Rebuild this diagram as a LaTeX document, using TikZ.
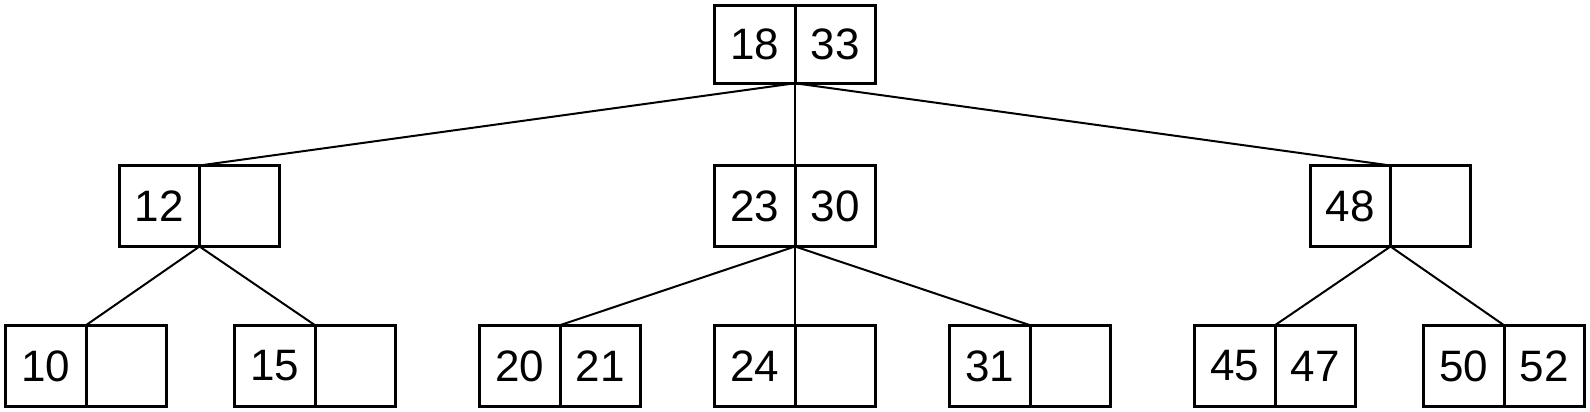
\documentclass[tikz,border=0pt]{standalone}
\usepackage{fontspec}
\setmainfont{Liberation Sans}
\newcommand\keybox[6]{%
  \node[cell,minimum height=#6,anchor=east] (#1l) at (#2,#3) {#4};
  \node[cell,minimum height=#6,anchor=west] (#1r) at (#2,#3) {#5};}
\begin{document}
\begin{tikzpicture}[x=0.5pt,y=-0.5pt,
  cell/.style={draw,line width=1.5pt,minimum width=40.2pt,inner sep=0pt,outer sep=0pt,
    font=\fontsize{22pt}{26pt}\selectfont},
  edge/.style={line width=1pt}]
\useasboundingbox (0,0) rectangle (1590,412);
% root
\keybox{r}{795}{44.25}{18}{33}{39pt}
% level 2
\keybox{a}{199.5}{206}{12}{}{40.5pt}
\keybox{b}{795}{206}{23}{30}{40.5pt}
\keybox{c}{1390.5}{206}{48}{}{40.5pt}
% level 3
\keybox{d}{86}{366}{10}{}{40.8pt}
\keybox{e}{315}{366}{15}{}{40.8pt}
\keybox{f}{560}{366}{20}{21}{40.8pt}
\keybox{g}{795}{366}{24}{}{40.8pt}
\keybox{h}{1030}{366}{31}{}{40.8pt}
\keybox{i}{1275}{366}{45}{47}{40.8pt}
\keybox{j}{1504}{366}{50}{52}{40.8pt}
% connectors
\draw[edge] (rl.south east) -- (al.north east);
\draw[edge] (rl.south east) -- (bl.north east);
\draw[edge] (rl.south east) -- (cl.north east);
\draw[edge] (al.south east) -- (dl.north east);
\draw[edge] (al.south east) -- (el.north east);
\draw[edge] (bl.south east) -- (fl.north east);
\draw[edge] (bl.south east) -- (gl.north east);
\draw[edge] (bl.south east) -- (hl.north east);
\draw[edge] (cl.south east) -- (il.north east);
\draw[edge] (cl.south east) -- (jl.north east);
\end{tikzpicture}
\end{document}
